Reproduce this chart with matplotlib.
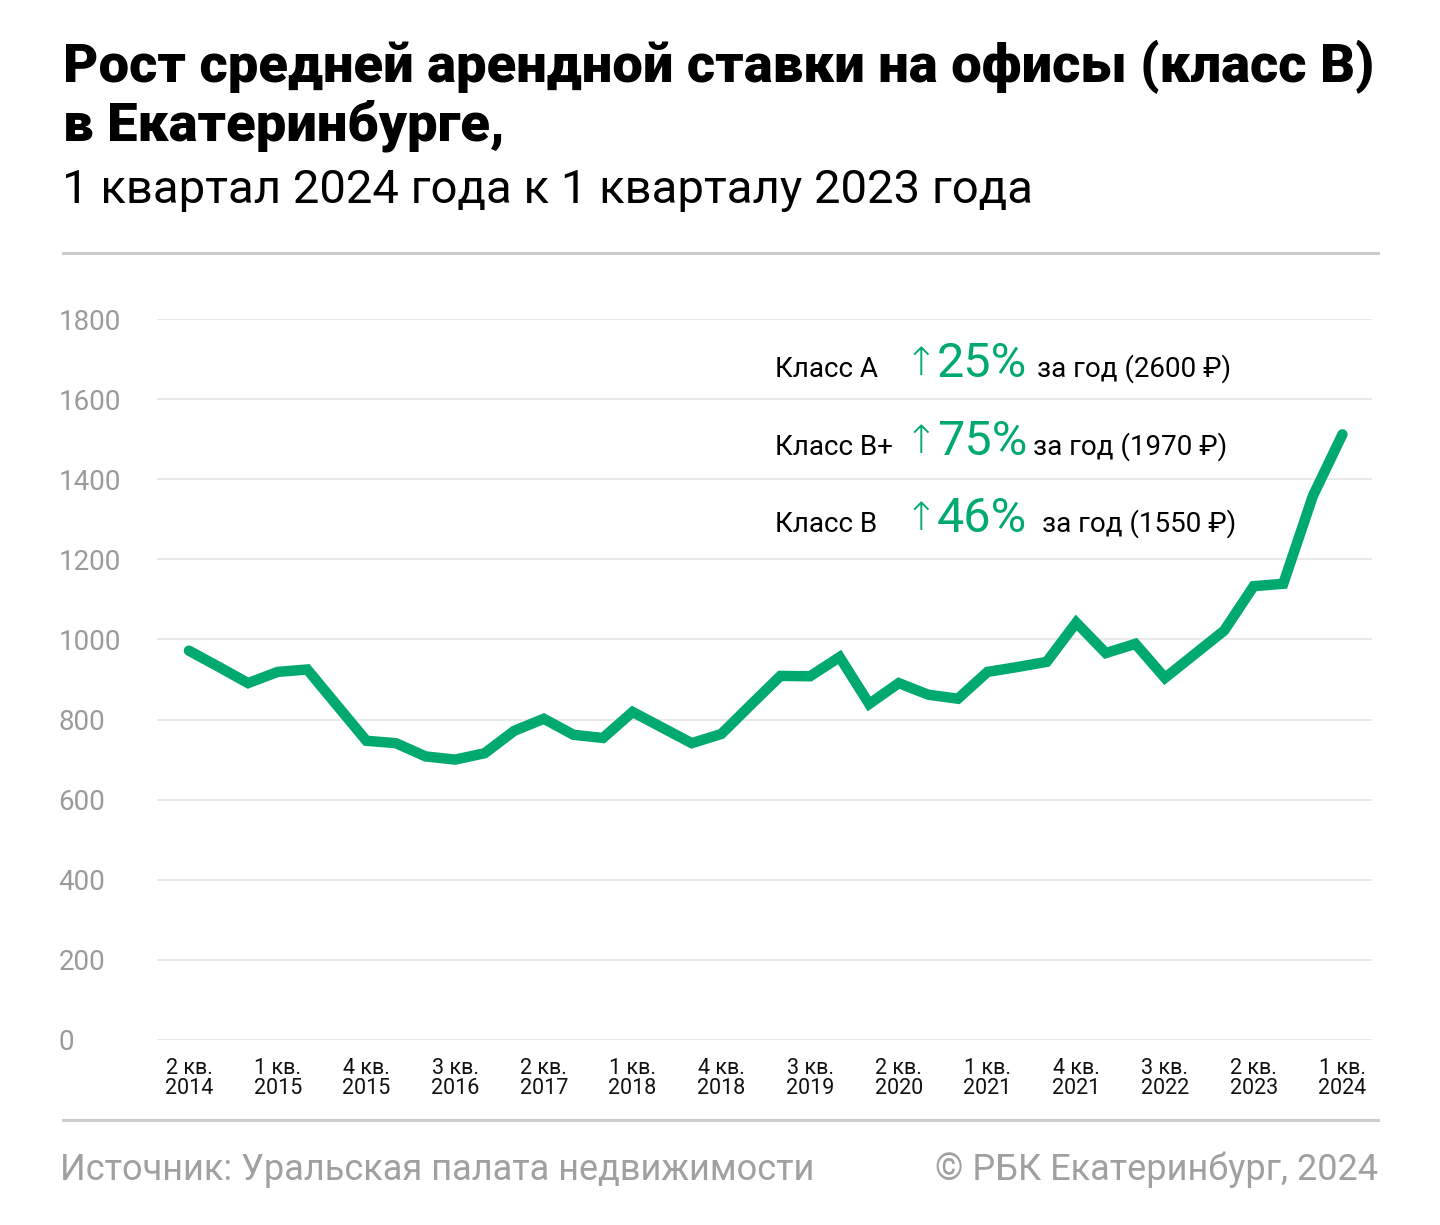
import matplotlib
matplotlib.use("Agg")
import matplotlib.pyplot as plt
from matplotlib.lines import Line2D

plt.rcParams['font.family'] = ['Roboto', 'DejaVu Sans']

# средняя ставка, класс В, руб./кв. м в месяц, 2 кв. 2014 - 1 кв. 2024
rates = [972, 932, 891, 919, 925, 836, 747, 741, 708, 700,
         716, 772, 802, 762, 754, 819, 780, 741, 764, 837,
         909, 908, 956, 839, 891, 862, 852, 919, 931, 944,
         1042, 966, 989, 904, 963, 1022, 1133, 1139, 1358, 1512]

tick_labels = ["2 кв.\n2014", "1 кв.\n2015", "4 кв.\n2015", "3 кв.\n2016",
               "2 кв.\n2017", "1 кв.\n2018", "4 кв.\n2018", "3 кв.\n2019",
               "2 кв.\n2020", "1 кв.\n2021", "4 кв.\n2021", "3 кв.\n2022",
               "2 кв.\n2023", "1 кв.\n2024"]
tick_step = 3

classes = ["Класс А", "Класс В+", "Класс В"]
growth = ["25%", "75%", "46%"]
notes = ["за год (2600 ₽)", "за год (1970 ₽)", "за год (1550 ₽)"]

GREEN = "#00a96e"
GREY = "#9b9b9b"
W, H = 1440, 1225


def fx(px):
    return px / W


def fy(py):
    return 1 - py / H


fig = plt.figure(figsize=(W / 100, H / 100), dpi=100)
fig.patch.set_facecolor("white")

ax = fig.add_axes([fx(157), fy(1040), fx(1372) - fx(157), fy(319) - fy(1040)])
ax.plot(range(len(rates)), rates, color=GREEN, lw=7.5,
        solid_capstyle="round", solid_joinstyle="miter", zorder=3)

ax.set_ylim(0, 1800)
ax.set_xlim(-1.08, 40.0)
ax.set_yticks(range(0, 1801, 200))
ax.set_yticklabels([str(v) for v in range(0, 1801, 200)], ha="left",
                   color=GREY, fontsize=20)
ax.set_xticks(range(0, len(rates), tick_step))
ax.set_xticklabels(tick_labels, fontsize=15.5, color="#111111",
                   linespacing=0.95)
ax.tick_params(axis="y", length=0, pad=71)
ax.tick_params(axis="x", length=0, pad=13)
ax.yaxis.grid(True, color="#e3e3e3", lw=1.1)
ax.set_axisbelow(True)
for s in ax.spines.values():
    s.set_visible(False)

# заголовок
fig.text(fx(63), fy(82), "Рост средней арендной ставки на офисы (класс В)",
         fontsize=39.2, fontweight="black", va="baseline")
fig.text(fx(63), fy(140), "в Екатеринбурге,",
         fontsize=39.2, fontweight="black", va="baseline")
fig.text(fx(62), fy(203), "1 квартал 2024 года к 1 кварталу 2023 года",
         fontsize=34, va="baseline")

for yy in (253, 1120):
    fig.add_artist(Line2D([fx(63), fx(1378)], [fy(yy), fy(yy)],
                          color="#cccccc", lw=2.2))

# врезка с приростом по классам
rows_y = [377, 455, 532]
note_x = [1037, 1033, 1042]
for i in range(3):
    fig.text(fx(775), fy(rows_y[i]), classes[i], fontsize=20, va="baseline")
    fig.text(fx(905), fy(rows_y[i] - 2), "↑", fontsize=28, fontweight="light",
             color=GREEN, va="baseline")
    fig.text(fx(937), fy(rows_y[i]), growth[i], fontsize=35,
             color=GREEN, va="baseline")
    fig.text(fx(note_x[i]), fy(rows_y[i]), notes[i], fontsize=20,
             va="baseline")

# подвал
fig.text(fx(60), fy(1180), "Источник: Уральская палата недвижимости",
         fontsize=26, color="#a0a0a0", va="baseline")
fig.text(fx(1378), fy(1180), "© РБК Екатеринбург, 2024",
         fontsize=26, color="#a0a0a0", va="baseline", ha="right")

fig.savefig("out.png", dpi=100, facecolor="white")
